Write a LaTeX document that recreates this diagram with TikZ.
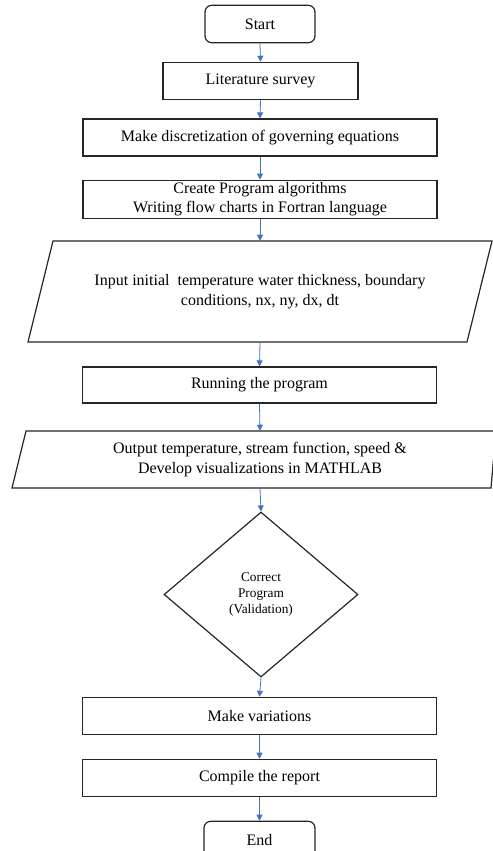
\documentclass[tikz,border=0pt]{standalone}
\usepackage{fontspec}
\setmainfont{Liberation Serif}
\usetikzlibrary{arrows.meta,shapes.geometric}
\definecolor{arrowblue}{HTML}{4472C4}
\definecolor{boxline}{HTML}{262626}
\begin{document}
\begin{tikzpicture}[x=0.75pt,y=-0.75pt,
  box/.style={draw=boxline,line width=0.9pt,fill=white,minimum height=28pt,inner sep=2pt,align=center,font=\fontsize{12}{14}\selectfont},
  term/.style={box,rounded corners=5pt,minimum width=82.5pt},
  wide/.style={box,minimum width=265.5pt},
  iotext/.style={inner sep=0pt,align=center,font=\fontsize{12}{15}\selectfont},
  io/.style={draw=boxline,line width=0.9pt},
  dec/.style={diamond,draw=boxline,line width=0.9pt,inner sep=0pt,minimum width=145.5pt,minimum height=123.75pt,align=center,font=\fontsize{10}{12}\selectfont},
  flow/.style={draw=arrowblue,line width=0.6pt,-{Triangle[width=4.5pt,length=4.5pt]}}]
\useasboundingbox[fill=white] (0,0) rectangle (493,851);
% nodes
\node[term] (start) at (260,24) {Start};
\node[box,minimum width=146.25pt] (lit) at (260.5,81) {Literature survey};
\node[wide,minimum height=27.75pt] (disc) at (260,137.5) {Make discretization of governing equations};
\node[wide,minimum height=27.75pt] (create) at (260,199.5) {Create Program algorithms\\Writing flow charts in Fortran language};
% input parallelogram
\draw[io] (53,241) -- (492,241) -- (467,342) -- (28,342) -- cycle;
\node[iotext,minimum height=75.75pt,minimum width=300pt] (input) at (260,291.5) {Input initial\ \ temperature water thickness, boundary\\conditions, nx, ny, dx, dt};
\node[wide,minimum height=27pt] (run) at (259.5,385) {Running the program};
% output parallelogram
\draw[io] (26,431) -- (496,431) -- (491,488) -- (12,488) -- cycle;
\node[iotext,minimum height=42.75pt,minimum width=300pt] (output) at (260,459.5) {Output temperature, stream function, speed \&\\Develop visualizations in MATHLAB};
\node[dec] (valid) at (261,594.5) {Correct\\Program\\(Validation)};
\node[wide] (var) at (259.5,716) {Make variations};
\node[wide] (comp) at (259.5,778) {Compile the report};
\node[term,minimum width=83.25pt] (end) at (259.5,840) {End};
% connectors
\draw[flow] (start.south) -- (lit.north);
\draw[flow] (lit.south) -- (disc.north);
\draw[flow] (disc.south) -- (create.north);
\draw[flow] (create.south) -- (input.north);
\draw[flow] (input.south) -- (run.north);
\draw[flow] (run.south) -- (output.north);
\draw[flow] (output.south) -- (valid.north);
\draw[flow] (valid.south) -- (var.north);
\draw[flow] (var.south) -- (comp.north);
\draw[flow] (comp.south) -- (end.north);
\end{tikzpicture}
\end{document}
